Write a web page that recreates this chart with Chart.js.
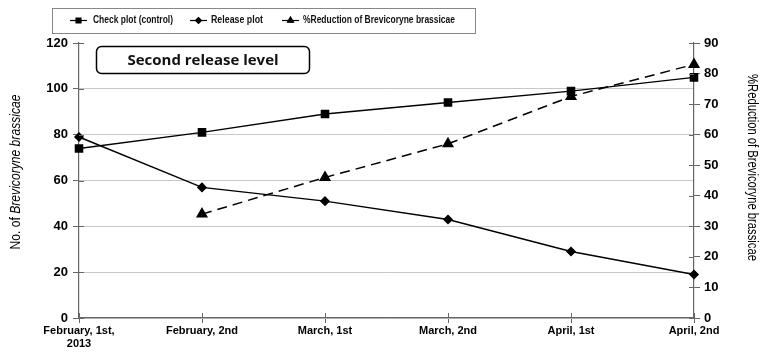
<!DOCTYPE html>
<html><head><meta charset="utf-8">
<script src="https://cdn.jsdelivr.net/npm/chart.js@4/dist/chart.umd.min.js"></script>
<style>html,body{margin:0;padding:0;background:#fff;}#wrap{width:768px;height:355px;}</style>
</head><body><div id="wrap"><canvas id="c" width="768" height="355"></canvas></div>
<script>
const categories = [['February, 1st,','2013'],'February, 2nd','March, 1st','March, 2nd','April, 1st','April, 2nd'];
const checkPlot = [74, 81, 89, 94, 99, 105];
const releasePlot = [79, 57, 51, 43, 29, 19];
const reduction = [null, 34, 46, 57, 72.5, 83];
const leftTicks = [0,20,40,60,80,100,120];
const rightTicks = [0,10,20,30,40,50,60,70,80,90];
const seriesNames = ['Check plot (control)','Release plot','%Reduction of Brevicoryne brassicae'];
const boxText = 'Second release level';

function fitText(ctx, txt, x, y, w){
  const m = ctx.measureText(txt).width;
  ctx.save(); ctx.translate(x,y); ctx.scale(w/m,1); ctx.fillText(txt,0,0); ctx.restore();
}

const extras = {
  id:'extras',
  afterDraw(chart){
    const ctx = chart.ctx, a = chart.chartArea;
    const yl = chart.scales.y, yr = chart.scales.y1, x = chart.scales.x;
    ctx.save();
    ctx.strokeStyle = '#666'; ctx.lineWidth = 1;
    ctx.beginPath();
    leftTicks.forEach(v=>{const p=Math.round(yl.getPixelForValue(v))+0.5; ctx.moveTo(a.left,p); ctx.lineTo(a.left+5,p);});
    rightTicks.forEach(v=>{const p=Math.round(yr.getPixelForValue(v))+0.5; ctx.moveTo(a.right-5,p); ctx.lineTo(a.right,p);});
    categories.forEach((c,i)=>{const p=Math.round(x.getPixelForValue(i))+0.5; ctx.moveTo(p,a.bottom-5); ctx.lineTo(p,a.bottom);});
    ctx.stroke();
    // legend box
    ctx.strokeStyle = '#888'; ctx.lineWidth = 1;
    ctx.strokeRect(52.5, 8.5, 423, 25);
    const items = [
      {x:70, style:'rect', r:3.5, tx:93, tw:80},
      {x:190, style:'rectRot', r:3, tx:211, tw:52},
      {x:282, style:'triangle', r:3.5, tx:303, tw:152}
    ];
    ctx.font = 'bold 10px "Liberation Sans", Arial, sans-serif';
    ctx.textBaseline = 'middle'; ctx.textAlign = 'left';
    items.forEach((it,i)=>{
      const cy = 20.5;
      ctx.strokeStyle = '#000'; ctx.lineWidth = 1.2;
      ctx.beginPath(); ctx.moveTo(it.x,cy); ctx.lineTo(it.x+17,cy); ctx.stroke();
      ctx.fillStyle = '#000';
      Chart.helpers.drawPoint(ctx, {pointStyle:it.style, radius:it.r, rotation:0, borderWidth:1}, it.x+8.5, cy);
      ctx.fill();
      ctx.fillStyle = '#111';
      fitText(ctx, seriesNames[i], it.tx, cy, it.tw);
    });
    // text box
    ctx.beginPath();
    const bx=96.5, by=46.5, bw=213, bh=27, rr=5;
    ctx.moveTo(bx+rr,by); ctx.lineTo(bx+bw-rr,by); ctx.arcTo(bx+bw,by,bx+bw,by+rr,rr);
    ctx.lineTo(bx+bw,by+bh-rr); ctx.arcTo(bx+bw,by+bh,bx+bw-rr,by+bh,rr);
    ctx.lineTo(bx+rr,by+bh); ctx.arcTo(bx,by+bh,bx,by+bh-rr,rr);
    ctx.lineTo(bx,by+rr); ctx.arcTo(bx,by,bx+rr,by,rr); ctx.closePath();
    ctx.fillStyle='#fff'; ctx.fill();
    ctx.strokeStyle='#000'; ctx.lineWidth=1.5; ctx.stroke();
    ctx.fillStyle='#111'; ctx.font='bold 15px "Open Sans", sans-serif';
    ctx.textAlign='center'; ctx.textBaseline='middle';
    ctx.fillText(boxText, bx+bw/2, by+bh/2+1);
    // left title
    ctx.save();
    ctx.translate(16, 172); ctx.rotate(-Math.PI/2);
    ctx.textBaseline='middle'; ctx.textAlign='left';
    const f1 = '14px "Liberation Sans", sans-serif';
    const f2 = 'italic 14px "Liberation Sans", sans-serif';
    const t1='No. of ', t2='Brevicoryne brassicae';
    ctx.font=f1; const w1=ctx.measureText(t1).width;
    ctx.font=f2; const w2=ctx.measureText(t2).width;
    const k = 155/(w1+w2);
    ctx.scale(k,1);
    let sx=-(w1+w2)/2;
    ctx.fillStyle='#000';
    ctx.font=f1; ctx.fillText(t1,sx,0);
    ctx.font=f2; ctx.fillText(t2,sx+w1,0);
    ctx.restore();
    // right title
    ctx.save();
    ctx.translate(752, 167); ctx.rotate(Math.PI/2);
    ctx.textBaseline='middle'; ctx.textAlign='left';
    ctx.font='14px "Liberation Sans", sans-serif';
    ctx.fillStyle='#000';
    const rt='%Reduction of Brevicoryne brassicae';
    fitText(ctx, rt, -93, 0, 187);
    ctx.restore();
    ctx.restore();
  }
};

new Chart(document.getElementById('c'), {
  type:'line',
  data:{
    labels:categories,
    datasets:[
      {label:seriesNames[0], data:checkPlot, yAxisID:'y', borderColor:'#000', backgroundColor:'#000', borderWidth:1.5, pointStyle:'rect', pointRadius:5, tension:0},
      {label:seriesNames[1], data:releasePlot, yAxisID:'y', borderColor:'#000', backgroundColor:'#000', borderWidth:1.5, pointStyle:'rectRot', pointRadius:4, tension:0},
      {label:seriesNames[2], data:reduction, yAxisID:'y1', borderColor:'#000', backgroundColor:'#000', borderWidth:1.5, borderDash:[10,6], pointStyle:'triangle', pointRadius:5.5, tension:0, spanGaps:false}
    ]
  },
  options:{
    responsive:false, animation:false, devicePixelRatio:1,
    layout:{padding:{top:43,left:0,right:0,bottom:0}},
    plugins:{legend:{display:false}, tooltip:{enabled:false}},
    scales:{
      x:{
        offset:false,
        grid:{display:true, drawOnChartArea:false, tickLength:5, color:'#666'},
        border:{color:'#666', width:1.2},
        ticks:{color:'#000', font:{family:'"Liberation Sans", Arial, sans-serif', weight:'bold', size:11}, padding:1, maxRotation:0, autoSkip:false},
        afterFit(s){s.height=37;}
      },
      y:{
        position:'left', min:0, max:120,
        afterBuildTicks(s){s.ticks=leftTicks.map(v=>({value:v}));},
        grid:{color:(c)=> (c.tick && c.tick.value===120) ? 'rgba(0,0,0,0)' : '#c8c8c8', tickColor:'#666', tickLength:6, drawTicks:true},
        border:{color:'#666', width:1.2},
        ticks:{color:'#000', font:{family:'"Liberation Sans", Arial, sans-serif', weight:'bold', size:13}, padding:5},
        afterFit(s){s.width=79;}
      },
      y1:{
        position:'right', min:0, max:90,
        afterBuildTicks(s){s.ticks=rightTicks.map(v=>({value:v}));},
        grid:{drawOnChartArea:false, color:'#666', tickLength:6},
        border:{color:'#666', width:1.2},
        ticks:{color:'#000', font:{family:'"Liberation Sans", Arial, sans-serif', weight:'bold', size:13}, padding:4},
        afterFit(s){s.width=74;}
      }
    }
  },
  plugins:[extras]
});
</script></body></html>
